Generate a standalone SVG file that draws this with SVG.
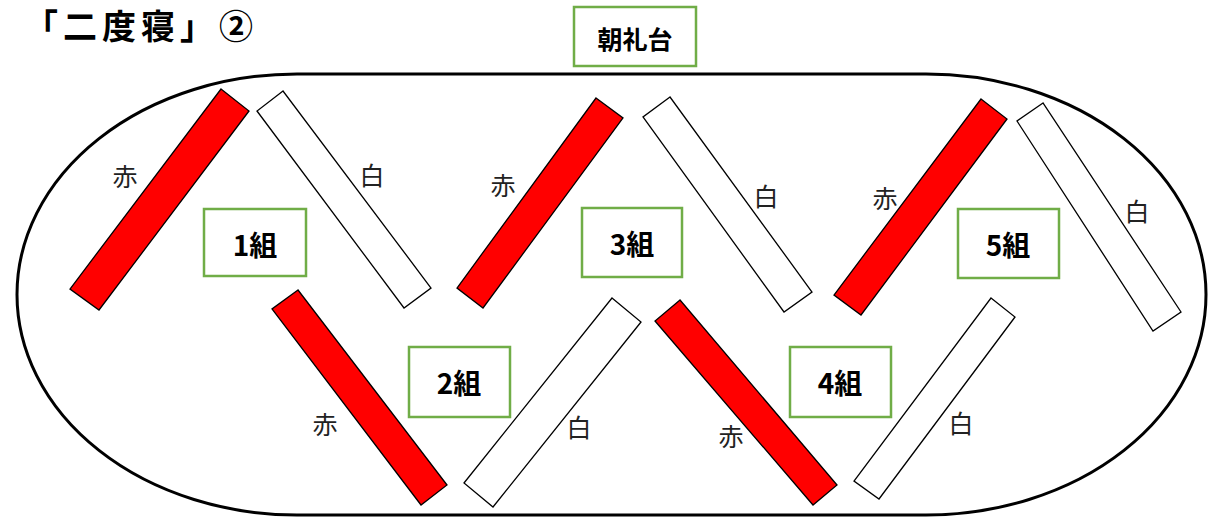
<svg xmlns="http://www.w3.org/2000/svg" width="1228" height="526" viewBox="0 0 1228 526">
<style>
.track{fill:none;stroke:#000;stroke-width:3}
.red{fill:#FF0000;stroke:#000;stroke-width:1.3}
.white{fill:#fff;stroke:#000;stroke-width:1.3}
.box{fill:#fff;stroke:#70AD47;stroke-width:2.5}
.lbl{font-family:"Noto Sans CJK JP","Noto Sans",sans-serif;font-size:25px;fill:#222;text-anchor:middle;dominant-baseline:central}
.grp{font-family:"Noto Sans CJK JP","Noto Sans",sans-serif;font-size:28px;font-weight:bold;fill:#000;text-anchor:middle;dominant-baseline:central}
.title{font-family:"Noto Sans CJK JP","Noto Sans",sans-serif;font-size:34px;font-weight:bold;fill:#000}
</style>
<rect width="1228" height="526" fill="#fff"/>
<text class="title" x="24" y="39" letter-spacing="5">「二度寝」②</text>
<g id="track"><rect class="track" x="17" y="74" width="1189" height="441" rx="280" ry="220.5"/></g>
<g id="podium"><rect class="box" x="574" y="7" width="122" height="59"/><text class="grp" x="635" y="38" style="font-size:25px">朝礼台</text></g>
<g id="bars">
<polygon class="red" points="221,89 249,111 99,310 70,289"/>
<polygon class="white" points="283,91 257,111 404,308 431,288"/>
<polygon class="red" points="298,290 272,309 421,505 447,485"/>
<polygon class="white" points="612,298 641,322 493,507 464,483"/>
<polygon class="red" points="596,98 623,118 483,308 457,288"/>
<polygon class="white" points="670,97 643,117 784,312 812,292"/>
<polygon class="red" points="680,300 655,321 813,505 837,485"/>
<polygon class="white" points="991,298 1015,317 879,499 854,481"/>
<polygon class="red" points="981,99 1007,119 861,315 834,295"/>
<polygon class="white" points="1043,103 1017,121 1153,331 1181,312"/>
</g>
<g id="labels">
<text class="lbl" x="125" y="175">赤</text>
<text class="lbl" x="372" y="174">白</text>
<text class="lbl" x="325" y="423">赤</text>
<text class="lbl" x="579" y="426">白</text>
<text class="lbl" x="503" y="184">赤</text>
<text class="lbl" x="766" y="195">白</text>
<text class="lbl" x="731" y="435">赤</text>
<text class="lbl" x="961" y="422">白</text>
<text class="lbl" x="885" y="197">赤</text>
<text class="lbl" x="1137" y="210">白</text>
</g>
<g id="g1"><rect class="box" x="204" y="209" width="102" height="67"/><text class="grp" x="255" y="244">1組</text></g>
<g id="g2"><rect class="box" x="409" y="347" width="101" height="70"/><text class="grp" x="459" y="382">2組</text></g>
<g id="g3"><rect class="box" x="582" y="208" width="100" height="69"/><text class="grp" x="632" y="243">3組</text></g>
<g id="g4"><rect class="box" x="790" y="347" width="101" height="70"/><text class="grp" x="840" y="382">4組</text></g>
<g id="g5"><rect class="box" x="958" y="209" width="101" height="69"/><text class="grp" x="1008" y="244">5組</text></g>
</svg>
